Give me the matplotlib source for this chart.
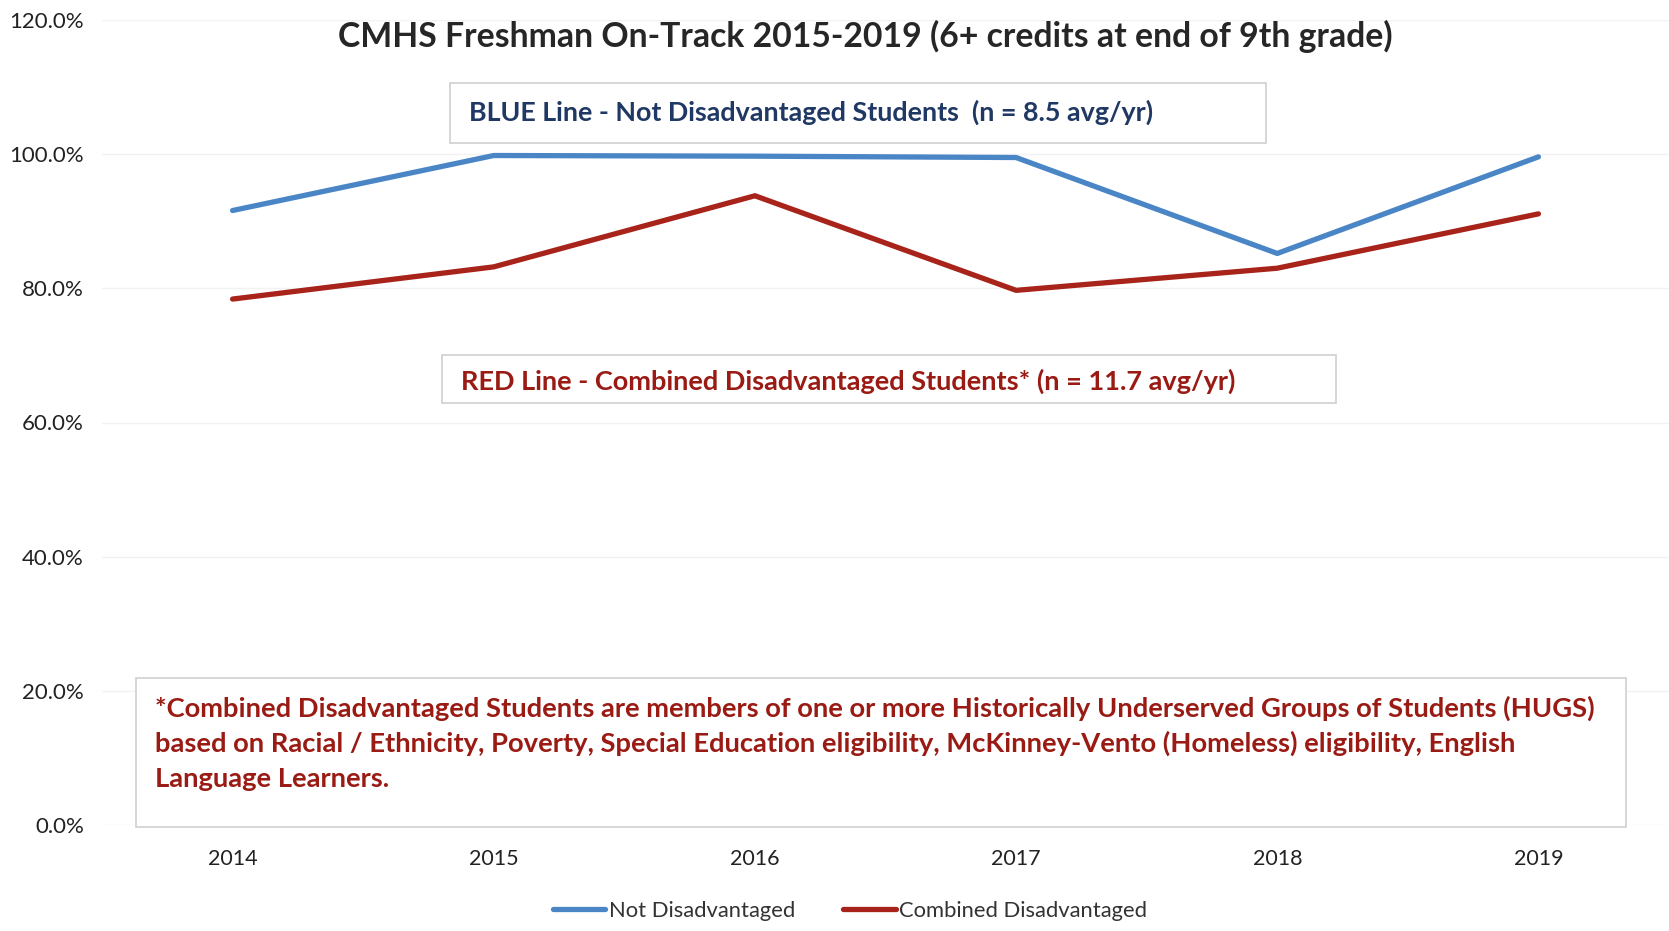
import matplotlib
matplotlib.use("Agg")
import matplotlib.pyplot as plt
from matplotlib.patches import Rectangle

years = ["2014", "2015", "2016", "2017", "2018", "2019"]
not_disadv = [91.6, 99.8, 99.7, 99.5, 85.2, 99.6]
combined_disadv = [78.4, 83.2, 93.8, 79.7, 83.0, 91.1]
y_ticks = [0, 20, 40, 60, 80, 100, 120]
y_tick_labels = ["0.0%", "20.0%", "40.0%", "60.0%", "80.0%", "100.0%", "120.0%"]
series_names = ["Not Disadvantaged", "Combined Disadvantaged"]

title = "CMHS Freshman On-Track 2015-2019 (6+ credits at end of 9th grade)"
blue_note = "BLUE Line - Not Disadvantaged Students  (n = 8.5 avg/yr)"
red_note = "RED Line - Combined Disadvantaged Students* (n = 11.7 avg/yr)"
foot_lines = [
    "*Combined Disadvantaged Students are members of one or more Historically Underserved Groups of Students (HUGS)",
    "based on Racial / Ethnicity, Poverty, Special Education eligibility, McKinney-Vento (Homeless) eligibility, English",
    "Language Learners.",
]

W, H = 1669, 931
plt.rcParams['font.family'] = ['Lato', 'DejaVu Sans']

fig = plt.figure(figsize=(W / 100, H / 100), dpi=100)

def fx(px):
    return px / W

def fy(py):
    return 1 - py / H

ax = fig.add_axes([fx(102), fy(825), fx(1669) - fx(102), fy(20) - fy(825)])
x = list(range(len(years)))
blue = "#4A86C6"
red = "#A8231A"
ax.plot(x, not_disadv, color=blue, lw=3.8, solid_capstyle="round", label=series_names[0], zorder=3)
ax.plot(x, combined_disadv, color=red, lw=3.8, solid_capstyle="round", label=series_names[1], zorder=3)
ax.set_xlim(-0.5, len(years) - 0.5)
ax.set_ylim(0, 120)
ax.set_yticks(y_ticks)
ax.set_yticklabels(y_tick_labels, fontsize=16, color="#222222")
ax.set_xticks(x)
ax.set_xticklabels(years, fontsize=15.5, color="#222222")
ax.tick_params(length=0)
ax.tick_params(axis="x", pad=17)
ax.tick_params(axis="y", pad=13)
ax.grid(axis="y", color="#F2F2F2", lw=1)
for s in ax.spines.values():
    s.set_visible(False)

# Title
fig.text(fx(865), fy(36), title, ha="center", va="center", fontsize=24.3, fontweight="bold", color="#262626")

# Boxes
def box(x0, y0, x1, y1):
    fig.patches.append(Rectangle((fx(x0), fy(y1)), fx(x1) - fx(x0), fy(y0) - fy(y1),
                                 transform=fig.transFigure, fill=True, facecolor="white",
                                 edgecolor="#D0D0D0", lw=1.2, zorder=5))

box(450, 83, 1266, 143)
fig.text(fx(469), fy(112), blue_note, ha="left", va="center", fontsize=19.4, fontweight="bold",
         color="#1F3864", zorder=6)
box(442, 355, 1336, 403)
fig.text(fx(461), fy(381), red_note, ha="left", va="center", fontsize=19.5, fontweight="bold",
         color="#9A1B14", zorder=6)
box(136, 678, 1626, 827)
for i, line in enumerate(foot_lines):
    fig.text(fx(155), fy(708 + 35.5 * i), line, ha="left", va="center", fontsize=19.7,
             fontweight="bold", color="#9A1B14", zorder=6)

leg = ax.legend(loc="center", bbox_to_anchor=(fx(850), fy(911)), bbox_transform=fig.transFigure,
                ncol=2, frameon=False, fontsize=15.8, handlelength=2.4, handletextpad=0.15,
                columnspacing=2.2)
for t in leg.get_texts():
    t.set_color("#333333")

fig.savefig("out.png", dpi=100, facecolor="white")
